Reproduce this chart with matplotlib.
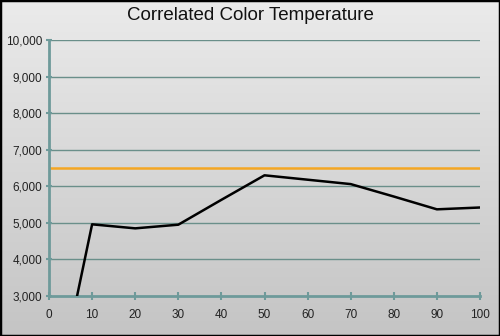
import matplotlib
matplotlib.use("Agg")
import matplotlib.pyplot as plt
import numpy as np
from matplotlib.patches import Rectangle

plt.rcParams["font.family"] = ["Liberation Sans", "DejaVu Sans"]

x_vals = [5, 10, 20, 30, 40, 50, 60, 70, 80, 90, 100]
cct = [2150, 4960, 4850, 4950, 5630, 6300, 6180, 6060, 5720, 5370, 5420]
target = 6500
x_ticks = [0, 10, 20, 30, 40, 50, 60, 70, 80, 90, 100]
y_ticks = [3000, 4000, 5000, 6000, 7000, 8000, 9000, 10000]
title = "Correlated Color Temperature"

fig = plt.figure(figsize=(5, 3.36), dpi=100)
bg = fig.add_axes([0, 0, 1, 1], zorder=-10)
grad = np.linspace(0.92, 0.77, 256).reshape(-1, 1)
bg.imshow(np.dstack([grad, grad, grad]), aspect="auto", extent=[0, 1, 0, 1])
bg.set_axis_off()
fig.patches.append(Rectangle((0, 0), 1, 1, transform=fig.transFigure,
                             fill=False, edgecolor="black", linewidth=2.5))

ax = fig.add_axes([0.098, 0.119, 0.862, 0.762])
ax.patch.set_alpha(0)
teal = "#6e9a9a"
for yv in y_ticks[1:]:
    ax.axhline(yv, color="#6a8f8a", linewidth=1.0, zorder=1)
ax.axhline(target, color="#f4a623", linewidth=1.8, zorder=2)
ax.plot(x_vals, cct, color="black", linewidth=1.8, zorder=3)

ax.set_xlim(0, 100)
ax.set_ylim(3000, 10000)
ax.set_xticks(x_ticks)
ax.set_yticks(y_ticks)
ax.set_yticklabels([f"{v:,}" for v in y_ticks])
for s in ["top", "right"]:
    ax.spines[s].set_visible(False)
ax.spines["left"].set_color(teal)
ax.spines["left"].set_linewidth(2.0)
ax.spines["bottom"].set_color(teal)
ax.spines["bottom"].set_linewidth(2.0)
ax.tick_params(axis="both", direction="inout", length=6, width=1.5, color=teal,
               labelsize=8.5, labelcolor="#222222")
ax.tick_params(axis="y", length=4)
ax.tick_params(axis="x", pad=6)
ax.tick_params(axis="y", pad=3)
fig.text(0.5, 0.955, title, ha="center", va="center", fontsize=13.5, color="#111111")

fig.savefig("out.png", dpi=100)
